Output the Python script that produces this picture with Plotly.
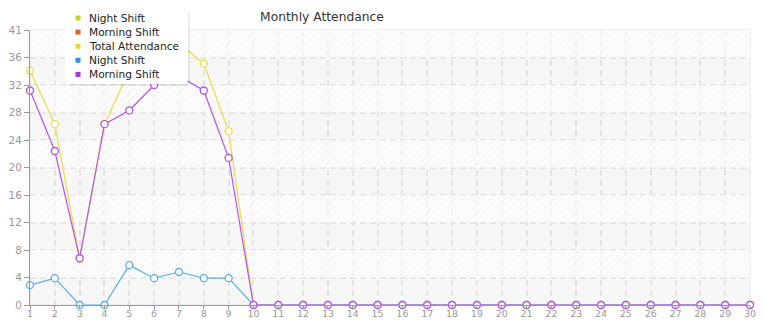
import plotly.graph_objects as go

# ---- data ----
days = list(range(1, 31))
total_attendance = [34.1, 26.3, 6.8, 26.3, 34.1, 35.9, 38.1, 35.1, 25.3] + [0] * 21
night_shift = [2.9, 3.9, 0, 0, 5.8, 3.9, 4.8, 3.9, 3.9] + [0] * 21
morning_shift = [31.2, 22.4, 6.8, 26.3, 28.3, 32.0, 33.3, 31.2, 21.4] + [0] * 21

y_tickvals = [0, 4, 8, 12, 16, 20, 24, 28, 32, 36, 40]
y_ticktext = ["0", "4", "8", "12", "16", "20", "24", "28", "32", "36", "41"]
x_ticks = days

legend_names = ["Night Shift", "Morning Shift", "Total Attendance", "Night Shift", "Morning Shift"]
legend_colors = ["#b6db2c", "#e2632b", "#e5d92d", "#2f93e0", "#a833e2"]

line_series = [
    ("Total Attendance", total_attendance, "#e8de45"),
    ("Night Shift", night_shift, "#5aaee6"),
    ("Morning Shift", morning_shift, "#b553e6"),
]

# ---- geometry (pixels) ----
W, H = 765, 320
ML, MR, MT, MB = 30, 15, 30, 15
PW = W - ML - MR
PH = H - MT - MB


def px_x(px):
    return (px - ML) / PW


def px_y(py):
    return (H - MB - py) / PH


fig = go.Figure()

# hatched bands (every other 4-unit band)
for i in range(1, len(y_tickvals) - 1, 2):
    lo, hi = y_tickvals[i], y_tickvals[i + 1]
    fig.add_trace(go.Scatter(
        x=[x_ticks[0], x_ticks[-1], x_ticks[-1], x_ticks[0], x_ticks[0]],
        y=[lo, lo, hi, hi, lo],
        mode="lines", fill="toself", line=dict(width=0),
        fillcolor="rgba(255,255,255,0)",
        fillpattern=dict(shape="/", fgcolor="#ebebeb", bgcolor="rgba(255,255,255,0.6)",
                         size=5, solidity=0.2),
        hoverinfo="skip", showlegend=False,
    ))

for name, vals, color in line_series:
    fig.add_trace(go.Scatter(
        x=days, y=vals, name=name, mode="lines+markers",
        line=dict(color=color, width=1.2),
        marker=dict(symbol="circle", size=7, color="white",
                    line=dict(color=color, width=1.3)),
        cliponaxis=False, showlegend=False,
    ))

shapes = []
annotations = []

# plot border (light) on top/right
shapes.append(dict(type="rect", xref="paper", yref="paper", x0=0, x1=1, y0=0, y1=1,
                   line=dict(color="#e6e6e6", width=1), fillcolor="rgba(0,0,0,0)", layer="below"))

# manual legend box
bx0, bx1, by0, by1, r = 65, 188, 9, 84, 5


def rounded(x0, x1, y0, y1, rad):
    X0, X1 = px_x(x0), px_x(x1)
    Y0, Y1 = px_y(y0), px_y(y1)  # Y0 top (greater), Y1 bottom
    rx, ry = rad / PW, rad / PH
    return (f"M {X0+rx},{Y0} L {X1-rx},{Y0} Q {X1},{Y0} {X1},{Y0-ry} "
            f"L {X1},{Y1+ry} Q {X1},{Y1} {X1-rx},{Y1} L {X0+rx},{Y1} "
            f"Q {X0},{Y1} {X0},{Y1+ry} L {X0},{Y0-ry} Q {X0},{Y0} {X0+rx},{Y0} Z")


shapes.append(dict(type="path", xref="paper", yref="paper", path=rounded(bx0 + 2, bx1 + 2, by0 + 2, by1 + 2, r),
                   fillcolor="rgba(0,0,0,0.07)", line=dict(width=0), layer="above"))
shapes.append(dict(type="path", xref="paper", yref="paper", path=rounded(bx0, bx1, by0, by1, r),
                   fillcolor="white", line=dict(width=0), layer="above"))

row0, step = 18, 14.1
for i, (nm, col) in enumerate(zip(legend_names, legend_colors)):
    cy = row0 + i * step
    shapes.append(dict(type="rect", xref="paper", yref="paper",
                       x0=px_x(75.5), x1=px_x(80.5), y0=px_y(cy + 2.5), y1=px_y(cy - 2.5),
                       fillcolor=col, line=dict(width=0), layer="above"))
    annotations.append(dict(text=nm, xref="paper", yref="paper", x=px_x(86.5), y=px_y(cy),
                            xanchor="left", yanchor="middle", showarrow=False,
                            font=dict(family="DejaVu Sans", size=10.6, color="#222")))

fig.update_layout(
    width=W, height=H,
    margin=dict(l=ML, r=MR, t=MT, b=MB, pad=0, autoexpand=False),
    paper_bgcolor="white",
    plot_bgcolor="#f7f7f7",
    title=dict(text="Monthly Attendance", x=322 / W, xref="container", xanchor="center",
               y=1 - 17 / H, yref="container", yanchor="middle",
               font=dict(family="DejaVu Sans", size=12.3, color="#333")),
    showlegend=False,
    shapes=shapes,
    annotations=annotations,
    xaxis=dict(range=[x_ticks[0], x_ticks[-1]], tickvals=x_ticks, ticktext=[str(v) for v in x_ticks],
               showgrid=True, gridcolor="#e4e4e4", griddash="6px,4px", gridwidth=1.5,
               showline=True, linecolor="#999", linewidth=1,
               ticks="outside", ticklen=3, tickcolor="#999", ticklabelstandoff=-3,
               tickfont=dict(family="DejaVu Sans", size=9.5, color="#999"),
               zeroline=False, fixedrange=True, automargin=False),
    yaxis=dict(range=[0, 40], tickvals=y_tickvals, ticktext=y_ticktext,
               showgrid=True, gridcolor="#e4e4e4", griddash="6px,4px", gridwidth=1.5,
               showline=True, linecolor="#999", linewidth=1,
               ticks="outside", ticklen=5, tickcolor="#999",
               tickfont=dict(family="DejaVu Sans", size=10.5, color="#999"),
               zeroline=False, fixedrange=True, automargin=False),
)

fig.write_html("out.html", config={"displayModeBar": False})
